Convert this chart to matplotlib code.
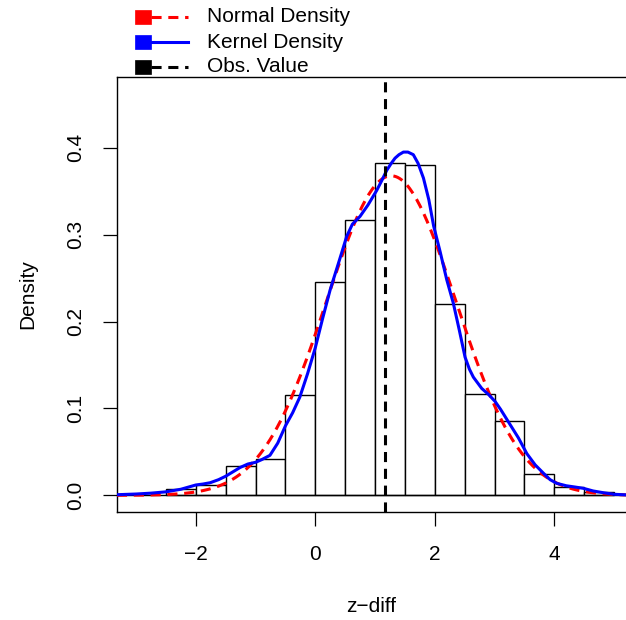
import numpy as np
import matplotlib
matplotlib.use("Agg")
import matplotlib.pyplot as plt
from matplotlib.lines import Line2D
from matplotlib.patches import Rectangle

plt.rcParams['font.family'] = ['Liberation Sans', 'DejaVu Sans']

# histogram bins (width 0.5) and densities
bin_edges = [-2.5, -2.0, -1.5, -1.0, -0.5, 0.0, 0.5, 1.0, 1.5, 2.0,
             2.5, 3.0, 3.5, 4.0, 4.5, 5.0]
bin_density = [0.0077, 0.0119, 0.0338, 0.0415, 0.115, 0.246, 0.317, 0.382,
               0.380, 0.220, 0.117, 0.085, 0.024, 0.0096, 0.004]

# normal density parameters
norm_mean = 1.27
norm_sd = 1.085

# kernel density curve
kde_x = [-3.32, -3.0, -2.75, -2.5, -2.25, -2.0, -1.88, -1.76, -1.62, -1.5,
         -1.38, -1.26, -1.13, -1.0, -0.9, -0.76, -0.63, -0.5, -0.38, -0.26,
         -0.13, 0.0, 0.12, 0.246, 0.4, 0.525, 0.62, 0.748, 0.88, 1.028,
         1.11, 1.195, 1.27, 1.334, 1.40, 1.474, 1.55, 1.64, 1.72, 1.81,
         1.90, 1.98, 2.09, 2.2, 2.31, 2.41, 2.506, 2.58, 2.645, 2.785,
         2.9, 3.009, 3.1, 3.2, 3.3, 3.40, 3.54, 3.68, 3.82, 3.93,
         4.04, 4.2, 4.35, 4.49, 4.65, 4.82, 5.0, 5.20]
kde_y = [0.0007, 0.0015, 0.0025, 0.004, 0.007, 0.0119, 0.013, 0.0145, 0.018, 0.022,
         0.027, 0.032, 0.036, 0.038, 0.041, 0.046, 0.060, 0.080, 0.095, 0.113,
         0.140, 0.170, 0.203, 0.236, 0.270, 0.298, 0.312, 0.321, 0.334, 0.351,
         0.362, 0.374, 0.382, 0.388, 0.392, 0.395, 0.395, 0.392, 0.382, 0.365,
         0.340, 0.310, 0.280, 0.248, 0.221, 0.190, 0.159, 0.145, 0.136, 0.123,
         0.116, 0.108, 0.099, 0.088, 0.077, 0.066, 0.048, 0.035, 0.0253, 0.018,
         0.0138, 0.011, 0.0095, 0.008, 0.005, 0.003, 0.0012, 0.0005]

obs_value = 1.17

legend_labels = ['Normal Density', 'Kernel Density', 'Obs. Value']
legend_colors = ['red', 'blue', 'black']
legend_dashed = [True, False, True]

W, H = 626, 620
fig = plt.figure(figsize=(W / 100, H / 100), dpi=100)
ax = fig.add_axes([117 / W, 1 - 512 / H, (W - 117) / W, (512 - 77) / H])

# histogram
widths = np.diff(bin_edges)
ax.bar(bin_edges[:-1], bin_density, width=widths, align='edge',
       facecolor='white', edgecolor='black', linewidth=1.0, zorder=2)
ax.axhline(0, color='black', linewidth=1.0, zorder=2)

# normal density
xs = np.linspace(-3.32, 5.2, 300)
ys = np.exp(-0.5 * ((xs - norm_mean) / norm_sd) ** 2) / (norm_sd * np.sqrt(2 * np.pi))
ax.plot(xs, ys, color='red', linewidth=2.2, dashes=(3.3, 2.2), zorder=3)

# kernel density
ax.plot(kde_x, kde_y, color='blue', linewidth=2.2, zorder=4,
        solid_joinstyle='round')

# observed value
ax.axvline(obs_value, color='black', linewidth=2.2, dashes=(3.3, 2.2), zorder=5)

ax.set_xlim(-3.32, 5.20)
ax.set_ylim(-0.0192, 0.4814)
ax.set_xticks([-2, 0, 2, 4])
ax.set_yticks([0.0, 0.1, 0.2, 0.3, 0.4])
ax.set_yticklabels(['0.0', '0.1', '0.2', '0.3', '0.4'], rotation=90, va='center')
ax.tick_params(axis='both', direction='out', length=10, width=0.9,
               labelsize=15, pad=13)
ax.tick_params(axis='x', pad=14)
ax.spines['right'].set_visible(False)
for s in ['left', 'top', 'bottom']:
    ax.spines[s].set_linewidth(1.0)

ax.set_xlabel('z\u2212diff', fontsize=15)
ax.set_ylabel('Density', fontsize=15)
ax.xaxis.set_label_coords(0.5, (512 - 606) / 435)
ax.xaxis.label.set_va('center')
ax.yaxis.set_label_coords((28 - 117) / 509, 0.5)
ax.yaxis.label.set_va('center')

# legend above the plot
rows = [17, 42, 67]
for lab, col, dashed, ry in zip(legend_labels, legend_colors, legend_dashed, rows):
    fig.add_artist(Rectangle((135 / W, 1 - (ry + 6.5) / H), 16 / W, 13 / H,
                             transform=fig.transFigure, facecolor=col,
                             edgecolor=col, linewidth=0.5))
    ln = Line2D([151 / W, 188 / W], [1 - ry / H, 1 - ry / H],
                transform=fig.transFigure, color=col, linewidth=2.2)
    if dashed:
        ln.set_dashes((3.3, 2.2))
    fig.add_artist(ln)
    fig.text(207 / W, 1 - ry / H, lab, fontsize=15, va='center', ha='left')

fig.savefig('out.png', dpi=100)
